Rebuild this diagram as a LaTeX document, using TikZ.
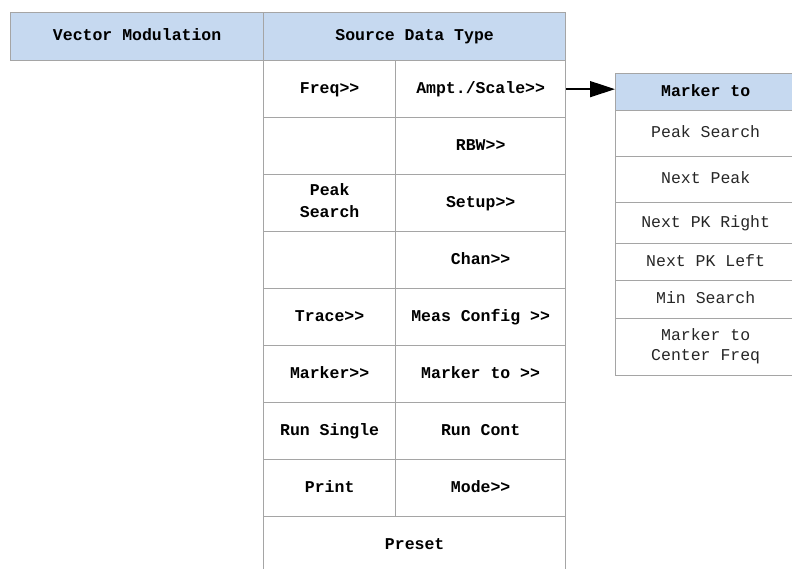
\documentclass[tikz,border=0pt]{standalone}
\usepackage{fontspec}
\setmonofont{Liberation Mono}
\usetikzlibrary{arrows.meta}
\definecolor{headblue}{RGB}{198,217,240}
\definecolor{gridgray}{RGB}{165,165,165}

\begin{document}
\begin{tikzpicture}[x=1pt,y=-1pt,
  every node/.style={font=\ttfamily\fontsize{16.5}{20}\selectfont},
  cell/.style={draw=gridgray,line width=1.3pt,anchor=north west,inner sep=0pt,align=center,
    execute at begin node=\strut,execute at end node=\strut},
  hdr/.style={fill=headblue,font=\ttfamily\bfseries\fontsize{16.5}{20}\selectfont},
  lkey/.style={cell,minimum width=132pt,minimum height=57pt,font=\ttfamily\bfseries\fontsize{16.5}{20}\selectfont},
  rkey/.style={lkey,minimum width=170pt},
  mcell/.style={cell,minimum width=180pt,text=black!85}]
  \useasboundingbox (0,0) rectangle (792,568);
  % top headers
  \node[cell,hdr,minimum width=253pt,minimum height=48pt] (vecmod) at (10,12) {Vector Modulation};
  \node[cell,hdr,minimum width=302pt,minimum height=48pt] (srctype) at (263,12) {Source Data Type};
  % soft keys
  \node[lkey] (freq) at (263,60) {Freq>>};
  \node[rkey] (ampt) at (395,60) {Ampt./Scale>>};
  \node[lkey] (blanka) at (263,117) {};
  \node[rkey] (rbw) at (395,117) {RBW>>};
  \node[lkey] (peak) at (263,174) {Peak\\[2pt]Search};
  \node[rkey] (setup) at (395,174) {Setup>>};
  \node[lkey] (blankb) at (263,231) {};
  \node[rkey] (chan) at (395,231) {Chan>>};
  \node[lkey] (trace) at (263,288) {Trace>>};
  \node[rkey] (meas) at (395,288) {Meas Config >>};
  \node[lkey] (marker) at (263,345) {Marker>>};
  \node[rkey] (mkto) at (395,345) {Marker to >>};
  \node[lkey] (single) at (263,402) {Run Single};
  \node[rkey] (cont) at (395,402) {Run Cont};
  \node[lkey] (print) at (263,459) {Print};
  \node[rkey] (mode) at (395,459) {Mode>>};
  \node[lkey,minimum width=302pt] (preset) at (263,516) {Preset};
  % marker to submenu
  \node[mcell,hdr,text=black,minimum height=37pt] (mkhead) at (615,73) {Marker to};
  \node[mcell,minimum height=46pt] (pksearch) at (615,110) {Peak Search};
  \node[mcell,minimum height=46pt] (nextpk) at (615,156) {Next Peak};
  \node[mcell,minimum height=41pt] (pkright) at (615,202) {Next PK Right};
  \node[mcell,minimum height=37pt] (pkleft) at (615,243) {Next PK Left};
  \node[mcell,minimum height=38pt] (minsearch) at (615,280) {Min Search};
  \node[mcell,minimum height=57pt] (mkcenter) at (615,318) {Marker to\\Center Freq};
  \draw[line width=1.5pt,-{Triangle[length=25pt,width=16pt]}] (ampt.east) -- (ampt.east -| mkhead.west);
\end{tikzpicture}
\end{document}
